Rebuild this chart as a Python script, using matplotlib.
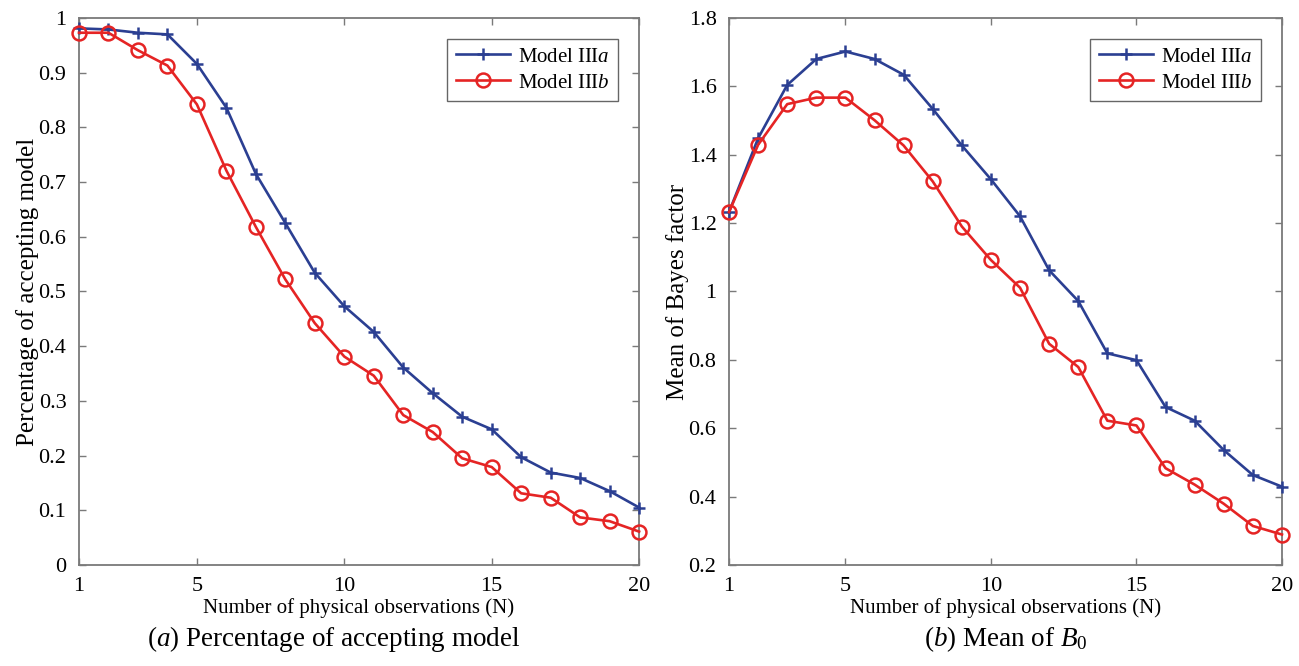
import numpy as np
import matplotlib
matplotlib.use("Agg")
import matplotlib.pyplot as plt

# ============================================================
# DADOS
# ============================================================
N = list(range(1, 21))

# (a) Percentage of accepting model
acc_IIIa = [0.981, 0.979, 0.973, 0.970, 0.916, 0.836, 0.715, 0.625, 0.534, 0.473,
            0.426, 0.361, 0.314, 0.271, 0.248, 0.197, 0.169, 0.159, 0.135, 0.105]
acc_IIIb = [0.973, 0.973, 0.941, 0.913, 0.842, 0.721, 0.618, 0.522, 0.442, 0.381,
            0.346, 0.274, 0.243, 0.195, 0.179, 0.131, 0.123, 0.087, 0.080, 0.061]

# (b) Mean of Bayes factor
bf_IIIa = [1.232, 1.448, 1.604, 1.680, 1.702, 1.680, 1.634, 1.534, 1.427, 1.328,
           1.220, 1.062, 0.972, 0.819, 0.799, 0.662, 0.622, 0.536, 0.463, 0.429]
bf_IIIb = [1.232, 1.429, 1.548, 1.567, 1.567, 1.501, 1.427, 1.322, 1.190, 1.092,
           1.011, 0.847, 0.779, 0.622, 0.608, 0.483, 0.435, 0.379, 0.314, 0.289]

xticks = [1, 5, 10, 15, 20]
yticks_a = [0, 0.1, 0.2, 0.3, 0.4, 0.5, 0.6, 0.7, 0.8, 0.9, 1]
yticks_b = [0.2, 0.4, 0.6, 0.8, 1, 1.2, 1.4, 1.6, 1.8]

AZUL = "#2b3f92"
VERM = "#e52424"
CINZA = "#7a7a7a"

plt.rcParams["font.family"] = ["Liberation Serif", "DejaVu Serif"]
plt.rcParams["mathtext.fontset"] = "custom"
plt.rcParams["mathtext.rm"] = "Liberation Serif"
plt.rcParams["mathtext.it"] = "Liberation Serif:italic"

fig = plt.figure(figsize=(12.99, 6.66), dpi=100)
ax1 = fig.add_axes([0.0608, 0.1517, 0.4312, 0.8213])
ax2 = fig.add_axes([0.5612, 0.1517, 0.4257, 0.8213])


def estilo(ax, yticks, ylim, ylabel):
    ax.set_xlim(1, 20)
    ax.set_ylim(*ylim)
    ax.set_xticks(xticks)
    ax.set_yticks(yticks)
    ax.set_yticklabels([f"{v:g}" for v in yticks])
    ax.tick_params(direction="in", length=5, width=1.0, color=CINZA,
                   top=True, right=True, labelsize=16)
    ax.tick_params(axis="y", pad=9)
    ax.tick_params(axis="x", pad=9)
    for s in ax.spines.values():
        s.set_color(CINZA)
        s.set_linewidth(1.3)
    ax.set_xlabel("Number of physical observations (N)", fontsize=15, labelpad=1)
    ax.set_ylabel(ylabel, fontsize=18, labelpad=0)
    leg = ax.legend(loc="upper right", fontsize=15, fancybox=False,
                    edgecolor="#404040", handlelength=2.6, borderaxespad=1.0,
                    labelspacing=0.3, handletextpad=0.4)
    leg.get_frame().set_linewidth(1.0)


ax1.plot(N, acc_IIIa, color=AZUL, lw=1.9, marker="+", ms=8, mew=1.8,
         label="Model III$\\it{a}$", clip_on=False, zorder=3)
ax1.plot(N, acc_IIIb, color=VERM, lw=1.9, marker="o", ms=10, mew=1.8,
         mfc="none", label="Model III$\\it{b}$", clip_on=False, zorder=3)
estilo(ax1, yticks_a, (0, 1), "Percentage of accepting model")

ax2.plot(N, bf_IIIa, color=AZUL, lw=1.9, marker="+", ms=8, mew=1.8,
         label="Model III$\\it{a}$", clip_on=False, zorder=3)
ax2.plot(N, bf_IIIb, color=VERM, lw=1.9, marker="o", ms=10, mew=1.8,
         mfc="none", label="Model III$\\it{b}$", clip_on=False, zorder=3)
estilo(ax2, yticks_b, (0.2, 1.8), "Mean of Bayes factor")

fig.text(0.2573, 0.018, "($\\it{a}$) Percentage of accepting model",
         ha="center", va="bottom", fontsize=19.5)
fig.text(0.7743, 0.018, "($\\it{b}$) Mean of $\\it{B}_{0}$",
         ha="center", va="bottom", fontsize=19.5)

fig.savefig("out.png", dpi=100)
